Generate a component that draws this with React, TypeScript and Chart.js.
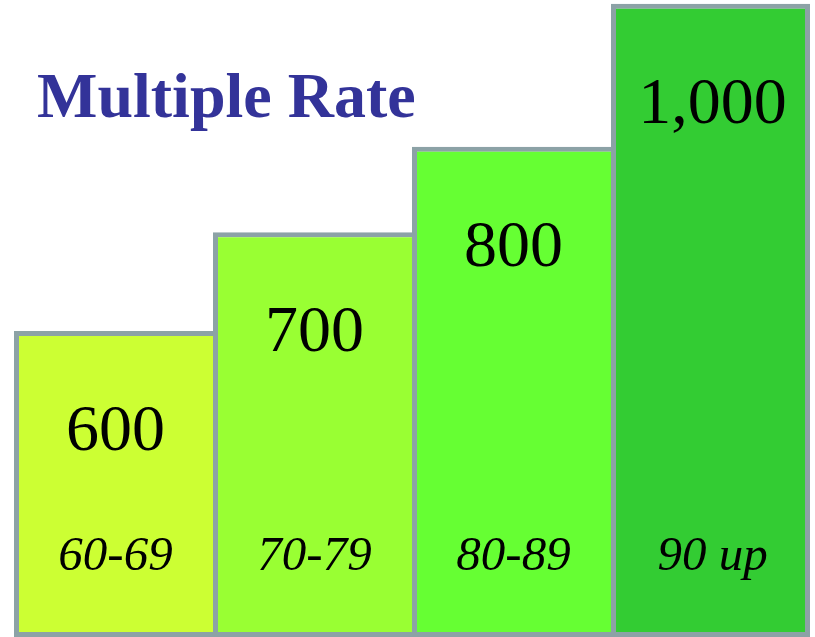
import React, { useEffect, useRef } from "react";
import { Chart, registerables } from "chart.js";

Chart.register(...registerables);

// Age bands and their multiple rates
const categories = ["60-69", "70-79", "80-89", "90 up"];
const rates = [600, 700, 800, 1000];
const barColors = ["#ccff33", "#99ff33", "#66ff33", "#33cc33"];
const borderColor = "#8ca2a6";
const titleText = "Multiple Rate";

// Logarithmic value range used for the staircase
const yMin = 372;
const yMax = 1006;

const SERIF = '"Liberation Serif", "Times New Roman", "DejaVu Serif", serif';

const labelPlugin = {
  id: "stepLabels",
  afterDatasetsDraw(chart: any) {
    const { ctx, chartArea } = chart;
    const meta = chart.getDatasetMeta(0);
    ctx.save();
    ctx.fillStyle = "#000000";
    ctx.textAlign = "center";
    ctx.textBaseline = "alphabetic";
    meta.data.forEach((bar: any, i: number) => {
      const v = rates[i];
      ctx.font = `66px ${SERIF}`;
      ctx.fillText(v.toLocaleString("en-US"), bar.x + 2, bar.y + 119);
      ctx.font = `italic 49px ${SERIF}`;
      ctx.fillText(categories[i], bar.x + 2, chartArea.bottom - 67);
    });
    ctx.restore();
  },
  afterDraw(chart: any) {
    const { ctx } = chart;
    ctx.save();
    ctx.fillStyle = "#333399";
    ctx.font = `bold 64px ${SERIF}`;
    ctx.textAlign = "left";
    ctx.textBaseline = "alphabetic";
    ctx.fillText(titleText, 37, 117);
    ctx.restore();
  },
};

export default function App() {
  const canvasRef = useRef<HTMLCanvasElement | null>(null);

  useEffect(() => {
    if (!canvasRef.current) return;
    const last = rates.length - 1;
    const chart = new Chart(canvasRef.current, {
      type: "bar",
      data: {
        labels: categories,
        datasets: [
          {
            data: rates,
            base: yMin,
            backgroundColor: barColors,
            borderColor: borderColor,
            borderSkipped: false,
            borderWidth: (c: any) => ({
              top: 5,
              bottom: 5,
              left: 5,
              right: c.dataIndex === last ? 5 : 0,
            }),
            categoryPercentage: 1,
            barPercentage: 1,
            inflateAmount: 0,
          } as any,
        ],
      },
      options: {
        responsive: false,
        animation: false,
        layout: { padding: { left: 14, right: 5, top: 0, bottom: 0 } },
        plugins: {
          legend: { display: false },
          tooltip: { enabled: false },
          title: { display: false },
        },
        scales: {
          x: { display: false, offset: true, grid: { display: false } },
          y: {
            type: "logarithmic",
            display: false,
            min: yMin,
            max: yMax,
            bounds: "data",
            grid: { display: false },
          },
        },
      },
      plugins: [labelPlugin],
    });
    return () => chart.destroy();
  }, []);

  return (
    <div
      style={{
        position: "absolute",
        left: 0,
        top: 0,
        width: 815,
        height: 637,
        background: "#ffffff",
      }}
    >
      <canvas ref={canvasRef} width={815} height={637} style={{ display: "block" }} />
    </div>
  );
}
